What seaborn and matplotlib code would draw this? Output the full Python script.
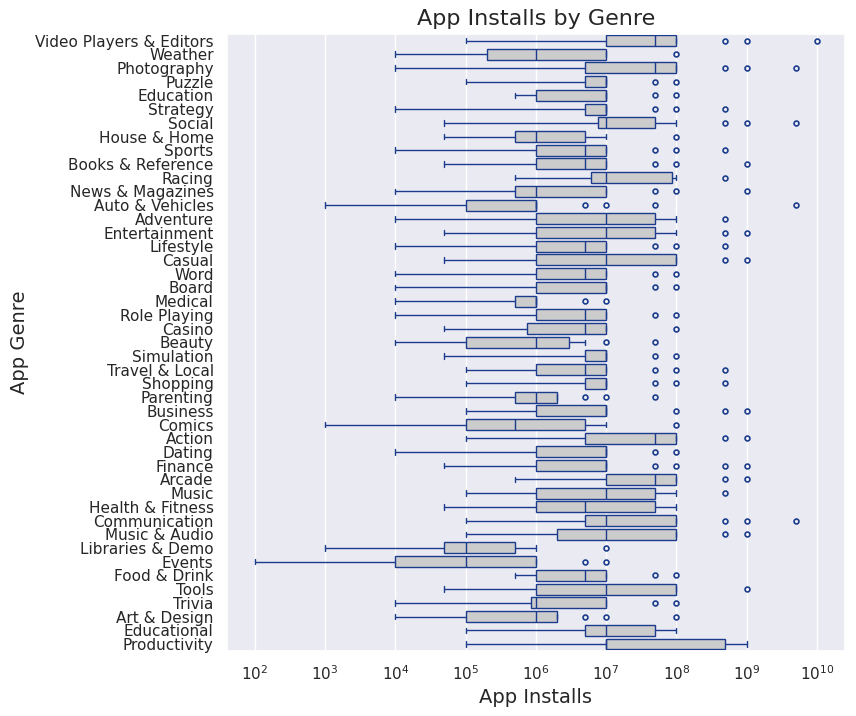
import numpy as np
import pandas as pd
import matplotlib
matplotlib.use("Agg")
import matplotlib.pyplot as plt
import seaborn as sns

genres = [
    "Video Players & Editors", "Weather", "Photography", "Puzzle", "Education",
    "Strategy", "Social", "House & Home", "Sports", "Books & Reference",
    "Racing", "News & Magazines", "Auto & Vehicles", "Adventure", "Entertainment",
    "Lifestyle", "Casual", "Word", "Board", "Medical", "Role Playing", "Casino",
    "Beauty", "Simulation", "Travel & Local", "Shopping", "Parenting", "Business",
    "Comics", "Action", "Dating", "Finance", "Arcade", "Music", "Health & Fitness",
    "Communication", "Music & Audio", "Libraries & Demo", "Events", "Food & Drink",
    "Tools", "Trivia", "Art & Design", "Educational", "Productivity",
]

# five-number summaries (installs)
whisker_lo = [1e5, 1e4, 1e4, 1e5, 5e5, 1e4, 5e4, 5e4, 1e4, 5e4,
              5e5, 1e4, 1e3, 1e4, 5e4, 1e4, 5e4, 1e4, 1e4, 1e4, 1e4, 5e4,
              1e4, 5e4, 1e5, 1e5, 1e4, 1e5, 1e3, 1e5, 1e4, 5e4, 5e5, 1e5, 5e4,
              1e5, 1e5, 1e3, 1e2, 5e5, 5e4, 1e4, 1e4, 1e5, 1e5]
q1 = [1e7, 2e5, 5e6, 5e6, 1e6, 5e6, 7.6e6, 5e5, 1e6, 1e6,
      6e6, 5e5, 1e5, 1e6, 1e6, 1e6, 1e6, 1e6, 1e6, 5e5, 1e6, 7.6e5,
      1e5, 5e6, 1e6, 5e6, 5e5, 1e6, 1e5, 5e6, 1e6, 1e6, 1e7, 1e6, 1e6,
      5e6, 2e6, 5e4, 1e4, 1e6, 1e6, 8.6e5, 1e5, 5e6, 1e7]
median = [5e7, 1e6, 5e7, 1e7, 1e7, 1e7, 1e7, 1e6, 5e6, 5e6,
          1e7, 1e6, 1e6, 1e7, 1e7, 5e6, 1e7, 5e6, 1e7, 1e6, 5e6, 5e6,
          1e6, 1e7, 5e6, 1e7, 1e6, 1e7, 5e5, 5e7, 1e7, 1e7, 5e7, 1e7, 5e6,
          1e7, 1e7, 1e5, 1e5, 5e6, 1e7, 1e6, 1e6, 1e7, 1e7]
q3 = [1e8, 1e7, 1e8, 1e7, 1e7, 1e7, 5e7, 5e6, 1e7, 1e7,
      8.6e7, 1e7, 1e6, 5e7, 5e7, 1e7, 1e8, 1e7, 1e7, 1e6, 1e7, 1e7,
      3e6, 1e7, 1e7, 1e7, 2e6, 1e7, 5e6, 1e8, 1e7, 1e7, 1e8, 5e7, 5e7,
      1e8, 1e8, 5e5, 1e6, 1e7, 1e8, 1e7, 2e6, 5e7, 5e8]
whisker_hi = [1e8, 1e7, 1e8, 1e7, 1e7, 1e7, 1e8, 1e7, 1e7, 1e7,
              1e8, 1e7, 1e6, 1e8, 1e8, 1e7, 1e8, 1e7, 1e7, 1e6, 1e7, 1e7,
              5e6, 1e7, 1e7, 1e7, 2e6, 1e7, 1e7, 1e8, 1e7, 1e7, 1e8, 1e8, 1e8,
              1e8, 1e8, 1e6, 1e6, 1e7, 1e8, 1e7, 2e6, 1e8, 1e9]
outliers = [
    [5e8, 1e9, 1e10], [1e8], [5e8, 1e9, 5e9], [5e7, 1e8], [5e7, 1e8],
    [5e7, 1e8, 5e8], [5e8, 1e9, 5e9], [1e8], [5e7, 1e8, 5e8], [5e7, 1e8, 1e9],
    [5e8], [5e7, 1e8, 1e9], [5e6, 1e7, 5e7, 5e9], [5e8], [5e8, 1e9],
    [5e7, 1e8, 5e8], [5e8, 1e9], [5e7, 1e8], [5e7, 1e8], [5e6, 1e7],
    [5e7, 1e8], [1e8], [1e7, 5e7], [5e7, 1e8], [5e7, 1e8, 5e8],
    [5e7, 1e8, 5e8], [5e6, 1e7, 5e7], [1e8, 5e8, 1e9], [1e8], [5e8, 1e9],
    [5e7, 1e8], [5e7, 1e8, 5e8, 1e9], [5e8, 1e9], [5e8], [],
    [5e8, 1e9, 5e9], [5e8, 1e9], [1e7], [5e6, 1e7], [5e7, 1e8],
    [1e9], [5e7, 1e8], [5e6, 1e7, 1e8], [], [],
]

# Build per-app records so the library computes the box statistics itself
REPEAT = 20
rows = []
for i, g in enumerate(genres):
    for v in (whisker_lo[i], q1[i], median[i], q3[i], whisker_hi[i]):
        rows += [(g, v)] * REPEAT
    rows += [(g, v) for v in outliers[i]]
df = pd.DataFrame(rows, columns=["Genre", "Installs"])

sns.set_theme(style="darkgrid")
fig, ax = plt.subplots(figsize=(8.56, 7.16), dpi=100)
fig.subplots_adjust(left=0.265, right=0.987, top=0.953, bottom=0.091)

edge = "#1b3c8c"
sns.boxplot(
    data=df, x="Installs", y="Genre", order=genres, ax=ax,
    color="#cccccc", linecolor=edge, linewidth=1.0,
    fliersize=3.5,
    flierprops=dict(marker="o", markerfacecolor="none", markeredgecolor=edge,
                    markeredgewidth=1.2),
)
ax.set_xscale("log")
ax.set_title("App Installs by Genre", fontsize=16)
ax.set_xlabel("App Installs", fontsize=14)
ax.set_ylabel("App Genre", fontsize=14)
fig.savefig("out.png", dpi=100)
